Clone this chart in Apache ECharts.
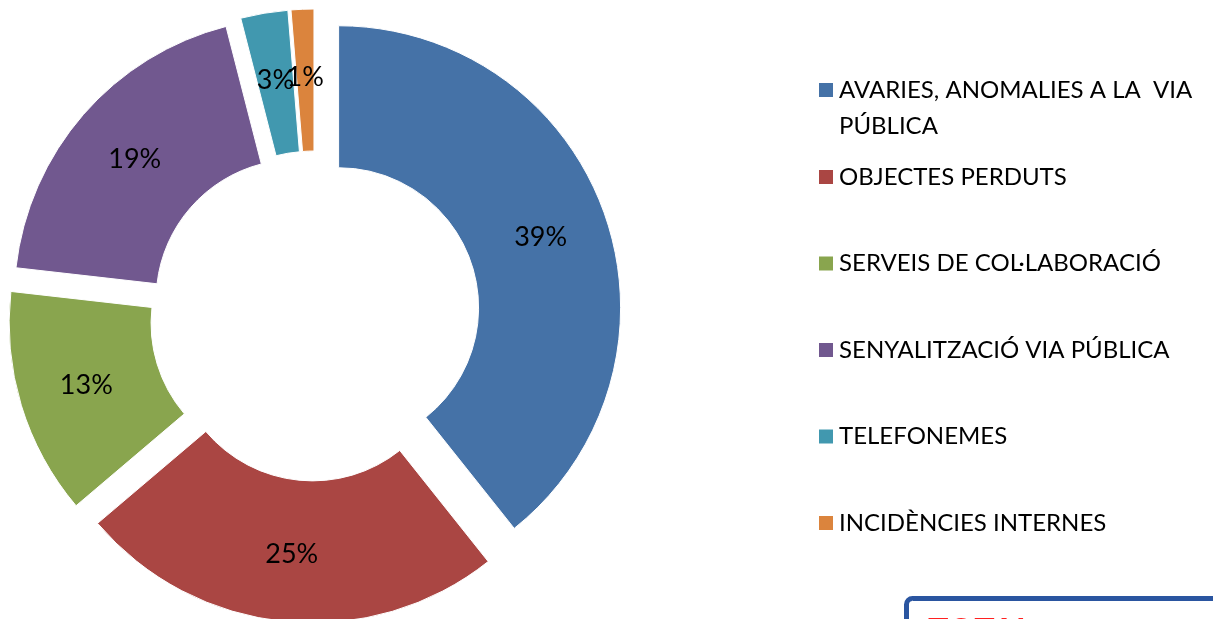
<!DOCTYPE html>
<html>
<head>
<meta charset="utf-8">
<script src="https://cdn.jsdelivr.net/npm/echarts@6/dist/echarts.min.js"></script>
<style>
html,body{margin:0;padding:0;background:#fff;}
#chart{width:1213px;height:619px;}
</style>
</head>
<body>
<div id="chart"></div>
<script>
const categories = [
  'AVARIES, ANOMALIES A LA  VIA PÚBLICA',
  'OBJECTES PERDUTS',
  'SERVEIS DE COL·LABORACIÓ',
  'SENYALITZACIÓ VIA PÚBLICA',
  'TELEFONEMES',
  'INCIDÈNCIES INTERNES'
];
const percentValues = [39.3, 24.5, 13.0, 19.2, 2.7, 1.3];
const colors = ['#4572A7', '#AA4643', '#89A54E', '#71588F', '#4198AF', '#DB843D'];

const FONT = 'Lato';
const chart = echarts.init(document.getElementById('chart'), null, {renderer: 'canvas'});

const pieData = categories.map((name, i) => ({
  name: name,
  value: percentValues[i],
  selected: true,
  itemStyle: {color: colors[i]}
}));

const legendText = {fontFamily: FONT, fontSize: 24, color: '#000'};

const option = {
  animation: false,
  backgroundColor: '#fff',
  legend: [
    {
      orient: 'vertical',
      left: 817,
      top: 72,
      padding: 0,
      data: [categories[0]],
      selectedMode: false,
      itemWidth: 16,
      itemHeight: 52,
      itemGap: 0,
      icon: 'path://M0 0H16V16H0Z M0 52L0.001 52',
      formatter: function () { return 'AVARIES, ANOMALIES A LA  VIA\nPÚBLICA'; },
      textStyle: Object.assign({lineHeight: 36}, legendText)
    },
    {
      orient: 'vertical',
      left: 817,
      top: 160,
      padding: 0,
      data: categories.slice(1),
      selectedMode: false,
      itemWidth: 16,
      itemHeight: 16,
      icon: 'rect',
      itemGap: 52.5,
      textStyle: Object.assign({lineHeight: 34}, legendText)
    }
  ],
  series: [{
    type: 'pie',
    center: [315, 316],
    radius: [140, 282],
    startAngle: 90,
    clockwise: true,
    selectedMode: 'multiple',
    selectedOffset: 25,
    avoidLabelOverlap: false,
    labelLayout: {hideOverlap: false},
    emphasis: {disabled: true},
    label: {
      show: true,
      position: 'inside',
      formatter: function (p) { return Math.round(p.value) + '%'; },
      fontFamily: FONT,
      fontSize: 27,
      color: '#000'
    },
    labelLine: {show: false},
    itemStyle: {borderWidth: 1, borderColor: '#fff'},
    data: pieData
  }],
  graphic: [
    {
      type: 'rect',
      left: 904,
      top: 596,
      shape: {width: 330, height: 80, r: 6},
      style: {fill: '#fff', stroke: '#2A55A0', lineWidth: 5}
    },
    {
      type: 'text',
      left: 928,
      top: 615,
      style: {text: 'TOTAL', fill: '#FF2020', font: 'bold 34px ' + FONT}
    }
  ]
};
chart.setOption(option);
</script>
</body>
</html>
